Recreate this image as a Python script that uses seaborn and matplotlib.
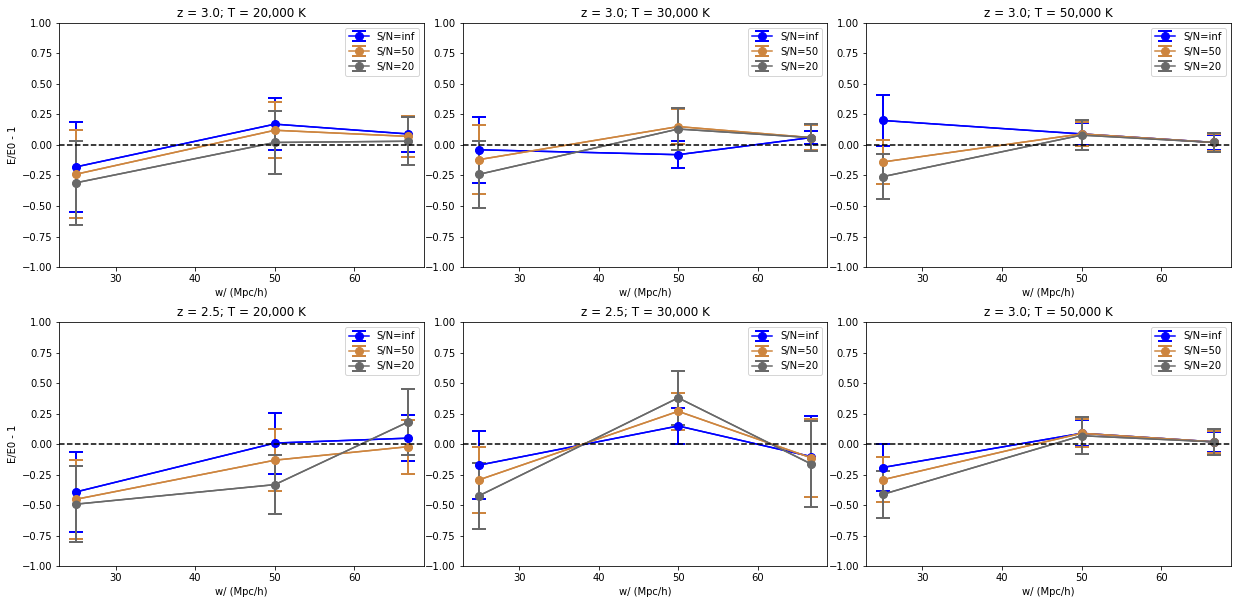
import numpy as np
import pandas as pd
import matplotlib
matplotlib.use("Agg")
import matplotlib.pyplot as plt
import seaborn as sns

plt.style.use("default")

widths = [25.0, 50.0, 66.67]
series_labels = ["S/N=inf", "S/N=50", "S/N=20"]
series_colors = ["blue", "peru", "dimgray"]

titles = [
    "z = 3.0; T = 20,000 K", "z = 3.0; T = 30,000 K", "z = 3.0; T = 50,000 K",
    "z = 2.5; T = 20,000 K", "z = 2.5; T = 30,000 K", "z = 3.0; T = 50,000 K",
]

# values per panel: [inf, 50, 20]
p1_vals = [[-0.18, 0.17, 0.09], [-0.24, 0.12, 0.07], [-0.31, 0.02, 0.03]]
p1_errs = [[0.37, 0.21, 0.15], [0.36, 0.23, 0.17], [0.345, 0.26, 0.195]]
p2_vals = [[-0.04, -0.08, 0.06], [-0.12, 0.15, 0.06], [-0.24, 0.13, 0.06]]
p2_errs = [[0.27, 0.11, 0.05], [0.28, 0.14, 0.10], [0.275, 0.17, 0.11]]
p3_vals = [[0.20, 0.09, 0.02], [-0.14, 0.09, 0.02], [-0.26, 0.08, 0.02]]
p3_errs = [[0.21, 0.09, 0.06], [0.18, 0.10, 0.07], [0.185, 0.12, 0.08]]
p4_vals = [[-0.39, 0.01, 0.05], [-0.45, -0.13, -0.02], [-0.49, -0.33, 0.18]]
p4_errs = [[0.33, 0.25, 0.19], [0.325, 0.255, 0.22], [0.31, 0.24, 0.27]]
p5_vals = [[-0.17, 0.15, -0.10], [-0.29, 0.27, -0.11], [-0.42, 0.38, -0.16]]
p5_errs = [[0.275, 0.15, 0.335], [0.27, 0.15, 0.32], [0.27, 0.22, 0.35]]
p6_vals = [[-0.19, 0.09, 0.02], [-0.29, 0.09, 0.02], [-0.41, 0.07, 0.02]]
p6_errs = [[0.19, 0.105, 0.08], [0.185, 0.115, 0.09], [0.19, 0.15, 0.105]]

all_vals = [p1_vals, p2_vals, p3_vals, p4_vals, p5_vals, p6_vals]
all_errs = [p1_errs, p2_errs, p3_errs, p4_errs, p5_errs, p6_errs]

DPI = 72
fig, axes = plt.subplots(2, 3, figsize=(1237 / DPI, 604 / DPI), dpi=DPI)
fig.subplots_adjust(left=0.048, right=0.995, top=0.9624, bottom=0.0621,
                    wspace=0.106, hspace=0.225)

for i, ax in enumerate(axes.flat):
    handles = []
    for s in range(3):
        df = pd.DataFrame({"w": widths, "val": all_vals[i][s]})
        sns.lineplot(data=df, x="w", y="val", ax=ax, color=series_colors[s],
                     marker="o", markersize=8, markeredgewidth=0,
                     linewidth=1.5, legend=False, zorder=2.1 + s * 0.01)
        h = ax.errorbar(widths, all_vals[i][s], yerr=all_errs[i][s], fmt="o-",
                        color=series_colors[s], markersize=8, linewidth=1.5,
                        elinewidth=2, capsize=7, capthick=2,
                        label=series_labels[s])
        handles.append(h)
    ax.axhline(0, color="black", linestyle="--", linewidth=1.5, zorder=3)
    ax.set_ylim(-1, 1)
    ax.set_yticks(np.arange(-1, 1.01, 0.25))
    ax.set_title(titles[i])
    ax.set_xlabel("w/ (Mpc/h)")
    ax.set_ylabel("E/E0 - 1" if i % 3 == 0 else "")
    ax.legend(handles=handles, loc="upper right")

fig.savefig("out.png", dpi=DPI)
